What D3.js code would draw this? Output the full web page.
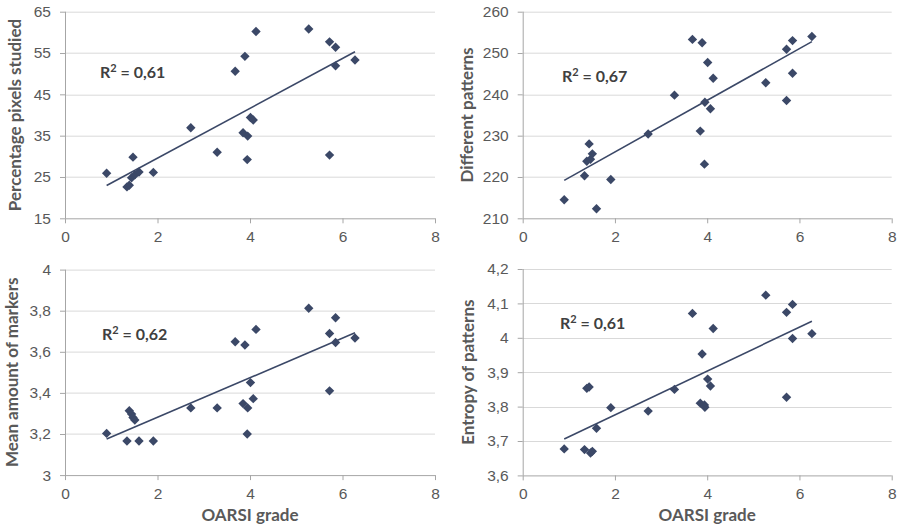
<!DOCTYPE html>
<html lang="en">
<head>
    <meta charset="UTF-8">
    <title>OARSI grade scatter plots</title>
    <script src="https://d3js.org/d3.v7.min.js"></script>
    <style>
        body { margin: 0; background: #fff; }
        svg { font-family: "Lato", "Open Sans", sans-serif; }
        .grid line { stroke: #d9d9d9; stroke-width: 1; }
        .axis path, .axis line { stroke: #a6a6a6; }
        .axis text { fill: #595959; font-size: 15.5px; }
        .ytitle, .xtitle { fill: #595959; font-size: 17px; font-weight: bold; }
        .r2 { fill: #404040; font-size: 16px; font-weight: bold; }
        .dot { fill: #3b4867; }
        .trend { stroke: #3b4867; stroke-width: 1.6; fill: none; }
    </style>
</head>
<body>
<svg id="chart" width="899" height="527"></svg>

<script>
    // OARSI grade, shared by all four plots
    const oarsi = [0.90, 1.34, 1.39, 1.44, 1.47, 1.51, 1.60, 1.91, 2.72, 3.29,
                   3.68, 3.85, 3.89, 3.94, 3.95, 4.01, 4.07, 4.13,
                   5.27, 5.72, 5.72, 5.85, 5.85, 6.27];

    const pixelsStudied = [25.9, 22.6, 23.0, 24.8, 29.8, 25.5, 26.2, 26.1, 36.9, 31.0,
                           50.6, 35.7, 54.2, 29.2, 34.9, 39.4, 38.8, 60.2,
                           60.8, 57.7, 30.3, 56.4, 51.9, 53.3];

    const differentPatterns = [214.5, 220.3, 223.8, 228.0, 224.3, 225.6, 212.3, 219.4, 230.4, 239.8,
                               253.3, 231.1, 252.5, 223.1, 238.1, 247.7, 236.5, 243.9,
                               242.8, 250.9, 238.5, 253.0, 245.1, 254.0];

    const meanMarkers = [3.203, 3.166, 3.313, 3.297, 3.280, 3.268, 3.166, 3.166, 3.327, 3.327,
                         3.649, 3.348, 3.633, 3.200, 3.327, 3.450, 3.372, 3.709,
                         3.812, 3.689, 3.410, 3.766, 3.645, 3.667];

    const entropyPatterns = [3.677, 3.675, 3.853, 3.857, 3.665, 3.670, 3.737, 3.797, 3.787, 3.850,
                             4.071, 3.810, 3.953, 3.805, 3.798, 3.880, 3.860, 4.027,
                             4.124, 4.074, 3.827, 4.097, 3.998, 4.012];

    const xTicks = [0, 2, 4, 6, 8];
    const pixelTicks = [15, 25, 35, 45, 55, 65];
    const patternTicks = [210, 220, 230, 240, 250, 260];
    const markerTicks = [3, 3.2, 3.4, 3.6, 3.8, 4];
    const entropyTicks = [3.6, 3.7, 3.8, 3.9, 4, 4.1, 4.2];

    const yTitles = ["Percentage pixels studied", "Different patterns", "Mean amount of markers", "Entropy of patterns"];
    const r2Values = ["0,61", "0,67", "0,62", "0,61"];
    const xTitle = "OARSI grade";

    const panels = [
        {values: pixelsStudied, ticks: pixelTicks, left: 65, top: 11.7, width: 370, height: 206.6, titleX: 15, r2: [100, 78]},
        {values: differentPatterns, ticks: patternTicks, left: 522.7, top: 11.7, width: 369, height: 206.6, titleX: 467, r2: [562, 82]},
        {values: meanMarkers, ticks: markerTicks, left: 65, top: 269.6, width: 370, height: 205.5, titleX: 12, r2: [102, 340]},
        {values: entropyPatterns, ticks: entropyTicks, left: 522.7, top: 269, width: 369, height: 206.4, titleX: 468, r2: [560, 329]}
    ];

    const fmt = v => String(v).replace(".", ",");
    const svg = d3.select("#chart");

    panels.forEach((p, i) => {
        const x = d3.scaleLinear().domain([0, 8]).range([0, p.width]);
        const y = d3.scaleLinear().domain(d3.extent(p.ticks)).range([p.height, 0]);

        const g = svg.append("g").attr("transform", `translate(${p.left},${p.top})`);

        g.append("g").attr("class", "grid")
            .selectAll("line")
            .data(p.ticks.slice(1))
            .enter().append("line")
            .attr("x1", 0).attr("x2", p.width)
            .attr("y1", d => Math.round(y(d)) + 0.5).attr("y2", d => Math.round(y(d)) + 0.5);

        g.append("g").attr("class", "axis")
            .call(d3.axisLeft(y).tickValues(p.ticks).tickSize(5).tickPadding(9).tickFormat(fmt))
            .call(a => a.select(".domain").attr("d", `M0.5,0V${p.height}`));

        g.append("g").attr("class", "axis")
            .attr("transform", `translate(0,${p.height})`)
            .call(d3.axisBottom(x).tickValues(xTicks).tickSize(5).tickPadding(8).tickFormat(fmt))
            .call(a => a.select(".domain").attr("d", `M0,0.5H${p.width}`));

        // least squares trend line
        const mx = d3.mean(oarsi), my = d3.mean(p.values);
        const slope = d3.sum(oarsi, (v, k) => (v - mx) * (p.values[k] - my)) / d3.sum(oarsi, v => (v - mx) ** 2);
        const ends = d3.extent(oarsi);
        g.append("line").attr("class", "trend")
            .attr("x1", x(ends[0])).attr("y1", y(my + slope * (ends[0] - mx)))
            .attr("x2", x(ends[1])).attr("y2", y(my + slope * (ends[1] - mx)));

        g.selectAll(".dot")
            .data(oarsi.map((v, k) => [v, p.values[k]]))
            .enter().append("path")
            .attr("class", "dot")
            .attr("d", d3.symbol(d3.symbolSquare, 44))
            .attr("transform", d => `translate(${x(d[0])},${y(d[1])}) rotate(45)`);

        svg.append("text").attr("class", "ytitle")
            .attr("transform", `translate(${p.titleX},${p.top + p.height / 2}) rotate(-90)`)
            .attr("text-anchor", "middle")
            .attr("dy", "0.35em")
            .text(yTitles[i]);

        const r2 = svg.append("text").attr("class", "r2")
            .attr("x", p.r2[0]).attr("y", p.r2[1]);
        r2.append("tspan").text("R");
        r2.append("tspan").attr("dy", -6).attr("font-size", "11px").text("2");
        r2.append("tspan").attr("dy", 6).text(" = " + r2Values[i]);

        if (i >= 2) {
            svg.append("text").attr("class", "xtitle")
                .attr("x", p.left + p.width / 2).attr("y", 521)
                .attr("text-anchor", "middle")
                .text(xTitle);
        }
    });
</script>
</body>
</html>
